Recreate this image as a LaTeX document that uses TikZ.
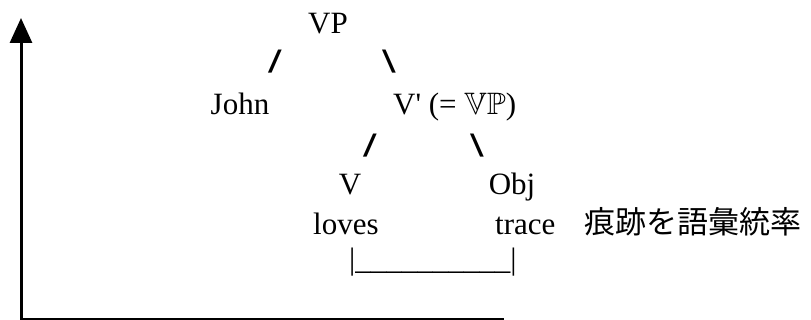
\documentclass[tikz,border=0pt]{standalone}
\usepackage{amssymb}
\usepackage{amsmath}
\usepackage{fontspec}
\setmainfont{Liberation Serif}
\setsansfont{Liberation Sans}
\newfontfamily\cjk{Noto Sans CJK JP}
\usetikzlibrary{arrows.meta}

\begin{document}
\begin{tikzpicture}[x=1pt, y=-1pt]
        \tikzstyle{word} = [inner sep=0pt, anchor=base, font=\fontsize{31}{37}\selectfont]
        \tikzstyle{branch} = [inner sep=0pt, transform shape, font=\fontsize{31}{37}\selectfont\sffamily\bfseries]
        \tikzstyle{left branch} = [branch, xslant=0.25]
        \tikzstyle{right branch} = [branch, xslant=-0.25]
        \tikzstyle{axis} = [line width=3pt]

\useasboundingbox (0,0) rectangle (811,320);

\node[word] (vp) at (328,34) {VP};
        \node[left branch] (slashJohn) at (275,62) {/};
        \node[right branch] (slashVbar) at (389,62) {\textbackslash};

\node[word] (john) at (240,115) {John};
        \node[word, anchor=base west] (vbar) at (393,115) {V\textquotesingle{} (= $\mathbb{VP}$)};

\node[left branch] (slashV) at (370,146) {/};
        \node[right branch] (slashObj) at (477,146) {\textbackslash};

\node[word] (verb) at (350,195) {V};
        \node[word] (obj) at (512,195) {Obj};

\node[word, anchor=base west] (loves) at (313,235) {loves};
        \node[word, anchor=base west] (trace) at (495,235) {trace};
        \node[word, anchor=base west, font=\fontsize{31}{37}\selectfont\cjk] (gloss) at (584,234) {痕跡を語彙統率};

\node[word, anchor=base west] (link) at (349,270) {|\_\_\_\_\_\_\_\_\_\_|};

\coordinate (origin) at (21,320);
        \coordinate (ytop) at (21,18);
        \coordinate (corner) at (21,319);
        \coordinate (xend) at (504,319);

\draw[axis, -{Triangle[width=22pt, length=25pt]}] (origin) -- (ytop);
        \draw[line width=1.5pt] (corner) -- (xend);

    \end{tikzpicture}
\end{document}
